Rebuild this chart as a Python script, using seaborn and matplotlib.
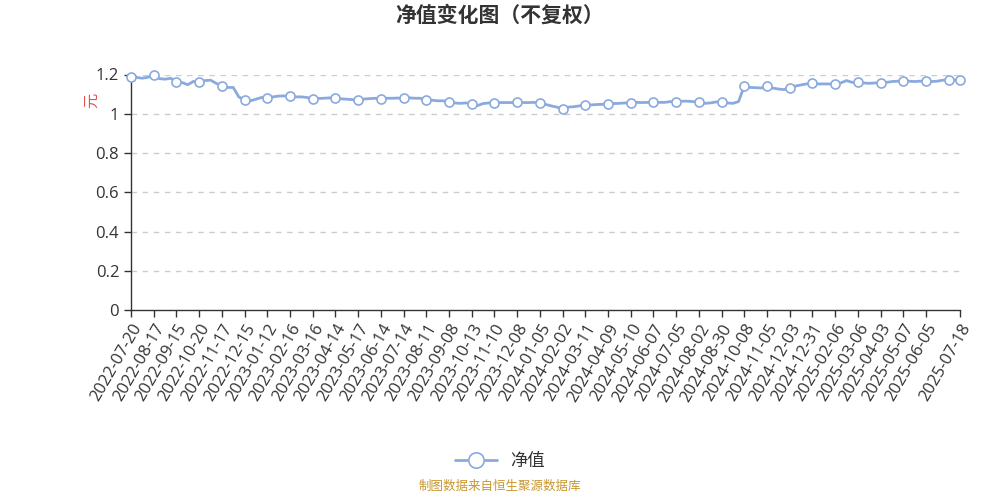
import seaborn as sns
import pandas as pd
import matplotlib.pyplot as plt

# net value sampled every 5 trading days, 2022-07-20 .. 2025-07-18
nav = [
    1.186, 1.185, 1.181, 1.186, 1.198, 1.179, 1.176, 1.181, 1.164, 1.159,
    1.148, 1.165, 1.160, 1.169, 1.171, 1.155, 1.143, 1.134, 1.134, 1.085,
    1.072, 1.066, 1.074, 1.083, 1.081, 1.086, 1.090, 1.091, 1.088, 1.086,
    1.086, 1.083, 1.073, 1.078, 1.079, 1.081, 1.078, 1.076, 1.074, 1.072,
    1.069, 1.075, 1.077, 1.079, 1.076, 1.079, 1.079, 1.080, 1.078, 1.081,
    1.079, 1.079, 1.068, 1.069, 1.066, 1.066, 1.060, 1.055, 1.053, 1.055,
    1.052, 1.041, 1.052, 1.055, 1.055, 1.057, 1.057, 1.057, 1.058, 1.057,
    1.057, 1.058, 1.053, 1.048, 1.040, 1.034, 1.022, 1.034, 1.036, 1.040,
    1.047, 1.045, 1.047, 1.048, 1.052, 1.052, 1.053, 1.055, 1.057, 1.058,
    1.057, 1.058, 1.059, 1.058, 1.058, 1.062, 1.062, 1.064, 1.064, 1.062,
    1.060, 1.053, 1.055, 1.060, 1.062, 1.055, 1.053, 1.062, 1.141, 1.134,
    1.133, 1.131, 1.141, 1.131, 1.126, 1.123, 1.133, 1.141, 1.147, 1.152,
    1.155, 1.152, 1.152, 1.152, 1.152, 1.157, 1.169, 1.160, 1.160, 1.157,
    1.155, 1.157, 1.157, 1.160, 1.164, 1.166, 1.166, 1.166, 1.164, 1.166,
    1.166, 1.164, 1.166, 1.171, 1.172, 1.172, 1.173,
]

tick_labels = [
    "2022-07-20", "2022-08-17", "2022-09-15", "2022-10-20", "2022-11-17",
    "2022-12-15", "2023-01-12", "2023-02-16", "2023-03-16", "2023-04-14",
    "2023-05-17", "2023-06-14", "2023-07-14", "2023-08-11", "2023-09-08",
    "2023-10-13", "2023-11-10", "2023-12-08", "2024-01-05", "2024-02-02",
    "2024-03-11", "2024-04-09", "2024-05-10", "2024-06-07", "2024-07-05",
    "2024-08-02", "2024-08-30", "2024-10-08", "2024-11-05", "2024-12-03",
    "2024-12-31", "2025-02-06", "2025-03-06", "2025-04-03", "2025-05-07",
    "2025-06-05", "2025-07-18",
]

last = len(nav) - 1
tick_pos = list(range(0, 4 * (len(tick_labels) - 1), 4)) + [last]
marker_pos = list(range(0, last, 4)) + [last]

df = pd.DataFrame({"idx": range(len(nav)), "nav": nav})

sns.set_theme(style="white")
plt.rcParams["font.family"] = ["Open Sans", "Noto Sans CJK SC", "DejaVu Sans"]
cjk = ["Noto Sans CJK SC", "DejaVu Sans"]

fig = plt.figure(figsize=(10, 5), dpi=100)
ax = fig.add_axes([0.131, 0.38, 0.829, 0.471])

blue = "#8aaade"
sns.lineplot(data=df, x="idx", y="nav", ax=ax, color=blue, linewidth=2.0,
             marker="o", markevery=marker_pos, markersize=6.5,
             markerfacecolor="white", markeredgecolor=blue,
             markeredgewidth=1.2, label="净值", clip_on=False, zorder=3)

ax.set_xlim(0, last)
ax.set_ylim(0, 1.2)
ax.set_yticks([0, 0.2, 0.4, 0.6, 0.8, 1.0, 1.2])
ax.set_yticklabels(["0", "0.2", "0.4", "0.6", "0.8", "1", "1.2"])
ax.set_xticks(tick_pos)
ax.set_xticklabels(tick_labels, rotation=60, ha="right", rotation_mode="anchor")
ax.tick_params(axis="both", colors="#333333", labelsize=12, length=5,
               width=1, direction="out", bottom=True, left=True)
ax.tick_params(axis="x", pad=3)
ax.set_xlabel("")
ax.set_ylabel("")

for y in [0.2, 0.4, 0.6, 0.8, 1.0, 1.2]:
    ax.axhline(y, color="#cccccc", linestyle=(0, (4, 4)), linewidth=1, zorder=0)

for side in ["top", "right"]:
    ax.spines[side].set_visible(False)
for side in ["left", "bottom"]:
    ax.spines[side].set_color("#333333")
    ax.spines[side].set_linewidth(1)

fig.text(0.092, 0.80, "元", color="#e8504a", fontsize=11, rotation=90,
         ha="center", va="center", family=cjk)

fig.suptitle("净值变化图（不复权）", x=0.5, y=0.99, fontsize=15,
             fontweight="bold", color="#333333", family=cjk)

leg = ax.legend(loc="center", bbox_to_anchor=(0.5, 0.078),
                bbox_transform=fig.transFigure, frameon=False,
                handlelength=2.4, markerscale=1.7,
                prop={"family": cjk, "size": 12.5}, labelcolor="#333333")

fig.text(0.5, 0.014, "制图数据来自恒生聚源数据库", color="#c8962d",
         fontsize=9, ha="center", va="bottom", family=cjk)

fig.savefig("out.png", dpi=100)
